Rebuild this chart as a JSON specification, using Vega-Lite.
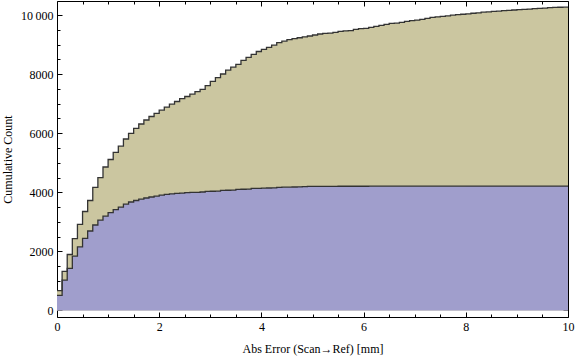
{
  "$schema": "https://vega.github.io/schema/vega-lite/v6.json",
  "autosize": "none",
  "width": 511,
  "height": 316,
  "padding": {"left": 57, "top": 1, "right": 8, "bottom": 40},
  "background": "white",
  "view": {"stroke": "#000000", "strokeWidth": 1},
  "config": {
    "axis": {
      "labelFont": "Liberation Serif",
      "labelFontSize": 12,
      "labelColor": "#000000",
      "titleFont": "Liberation Serif",
      "titleFontSize": 12,
      "titleFontWeight": "normal",
      "titleColor": "#000000",
      "tickColor": "#000000",
      "tickWidth": 1,
      "grid": false,
      "domain": false
    }
  },
  "datasets": {
    "hist": [
      {"x": 0, "n": 670, "g": "all"}, {"x": 0.1, "n": 1326, "g": "all"}, {"x": 0.2, "n": 1895, "g": "all"}, {"x": 0.3, "n": 2430, "g": "all"}, {"x": 0.4, "n": 2917, "g": "all"},
      {"x": 0.5, "n": 3350, "g": "all"}, {"x": 0.6, "n": 3722, "g": "all"}, {"x": 0.7, "n": 4169, "g": "all"}, {"x": 0.8, "n": 4500, "g": "all"}, {"x": 0.9, "n": 4856, "g": "all"},
      {"x": 1.0, "n": 5110, "g": "all"}, {"x": 1.1, "n": 5353, "g": "all"}, {"x": 1.2, "n": 5560, "g": "all"}, {"x": 1.3, "n": 5804, "g": "all"}, {"x": 1.4, "n": 5996, "g": "all"},
      {"x": 1.5, "n": 6165, "g": "all"}, {"x": 1.6, "n": 6311, "g": "all"}, {"x": 1.7, "n": 6447, "g": "all"}, {"x": 1.8, "n": 6565, "g": "all"}, {"x": 1.9, "n": 6673, "g": "all"},
      {"x": 2.0, "n": 6780, "g": "all"}, {"x": 2.1, "n": 6885, "g": "all"}, {"x": 2.2, "n": 6983, "g": "all"}, {"x": 2.3, "n": 7073, "g": "all"}, {"x": 2.4, "n": 7168, "g": "all"},
      {"x": 2.5, "n": 7242, "g": "all"}, {"x": 2.6, "n": 7320, "g": "all"}, {"x": 2.7, "n": 7404, "g": "all"}, {"x": 2.8, "n": 7485, "g": "all"}, {"x": 2.9, "n": 7613, "g": "all"},
      {"x": 3.0, "n": 7756, "g": "all"}, {"x": 3.1, "n": 7878, "g": "all"}, {"x": 3.2, "n": 8003, "g": "all"}, {"x": 3.3, "n": 8133, "g": "all"}, {"x": 3.4, "n": 8235, "g": "all"},
      {"x": 3.5, "n": 8331, "g": "all"}, {"x": 3.6, "n": 8466, "g": "all"}, {"x": 3.7, "n": 8568, "g": "all"}, {"x": 3.8, "n": 8670, "g": "all"}, {"x": 3.9, "n": 8765, "g": "all"},
      {"x": 4.0, "n": 8839, "g": "all"}, {"x": 4.1, "n": 8905, "g": "all"}, {"x": 4.2, "n": 8980, "g": "all"}, {"x": 4.3, "n": 9063, "g": "all"}, {"x": 4.4, "n": 9115, "g": "all"},
      {"x": 4.5, "n": 9170, "g": "all"}, {"x": 4.6, "n": 9200, "g": "all"}, {"x": 4.7, "n": 9230, "g": "all"}, {"x": 4.8, "n": 9260, "g": "all"}, {"x": 4.9, "n": 9289, "g": "all"},
      {"x": 5.0, "n": 9323, "g": "all"}, {"x": 5.1, "n": 9357, "g": "all"}, {"x": 5.2, "n": 9380, "g": "all"}, {"x": 5.3, "n": 9390, "g": "all"}, {"x": 5.4, "n": 9414, "g": "all"},
      {"x": 5.5, "n": 9448, "g": "all"}, {"x": 5.6, "n": 9460, "g": "all"}, {"x": 5.7, "n": 9470, "g": "all"}, {"x": 5.8, "n": 9515, "g": "all"}, {"x": 5.9, "n": 9537, "g": "all"},
      {"x": 6.0, "n": 9545, "g": "all"}, {"x": 6.1, "n": 9583, "g": "all"}, {"x": 6.2, "n": 9617, "g": "all"}, {"x": 6.3, "n": 9650, "g": "all"}, {"x": 6.4, "n": 9684, "g": "all"},
      {"x": 6.5, "n": 9718, "g": "all"}, {"x": 6.6, "n": 9725, "g": "all"}, {"x": 6.7, "n": 9752, "g": "all"}, {"x": 6.8, "n": 9786, "g": "all"}, {"x": 6.9, "n": 9808, "g": "all"},
      {"x": 7.0, "n": 9830, "g": "all"}, {"x": 7.1, "n": 9853, "g": "all"}, {"x": 7.2, "n": 9887, "g": "all"}, {"x": 7.3, "n": 9921, "g": "all"}, {"x": 7.4, "n": 9940, "g": "all"},
      {"x": 7.5, "n": 9955, "g": "all"}, {"x": 7.6, "n": 9970, "g": "all"}, {"x": 7.7, "n": 9995, "g": "all"}, {"x": 7.8, "n": 10011, "g": "all"}, {"x": 7.9, "n": 10025, "g": "all"},
      {"x": 8.0, "n": 10040, "g": "all"}, {"x": 8.1, "n": 10060, "g": "all"}, {"x": 8.2, "n": 10075, "g": "all"}, {"x": 8.3, "n": 10095, "g": "all"}, {"x": 8.4, "n": 10105, "g": "all"},
      {"x": 8.5, "n": 10120, "g": "all"}, {"x": 8.6, "n": 10130, "g": "all"}, {"x": 8.7, "n": 10150, "g": "all"}, {"x": 8.8, "n": 10158, "g": "all"}, {"x": 8.9, "n": 10170, "g": "all"},
      {"x": 9.0, "n": 10185, "g": "all"}, {"x": 9.1, "n": 10192, "g": "all"}, {"x": 9.2, "n": 10200, "g": "all"}, {"x": 9.3, "n": 10215, "g": "all"}, {"x": 9.4, "n": 10226, "g": "all"},
      {"x": 9.5, "n": 10235, "g": "all"}, {"x": 9.6, "n": 10250, "g": "all"}, {"x": 9.7, "n": 10259, "g": "all"}, {"x": 9.8, "n": 10262, "g": "all"}, {"x": 9.9, "n": 10265, "g": "all"},
      {"x": 10, "n": 10265, "g": "all"},
      {"x": 0, "n": 510, "g": "sub"}, {"x": 0.1, "n": 1030, "g": "sub"}, {"x": 0.2, "n": 1427, "g": "sub"}, {"x": 0.3, "n": 1838, "g": "sub"}, {"x": 0.4, "n": 2150, "g": "sub"},
      {"x": 0.5, "n": 2443, "g": "sub"}, {"x": 0.6, "n": 2690, "g": "sub"}, {"x": 0.7, "n": 2893, "g": "sub"}, {"x": 0.8, "n": 3058, "g": "sub"}, {"x": 0.9, "n": 3193, "g": "sub"},
      {"x": 1.0, "n": 3310, "g": "sub"}, {"x": 1.1, "n": 3415, "g": "sub"}, {"x": 1.2, "n": 3500, "g": "sub"}, {"x": 1.3, "n": 3598, "g": "sub"}, {"x": 1.4, "n": 3672, "g": "sub"},
      {"x": 1.5, "n": 3722, "g": "sub"}, {"x": 1.6, "n": 3768, "g": "sub"}, {"x": 1.7, "n": 3807, "g": "sub"}, {"x": 1.8, "n": 3841, "g": "sub"}, {"x": 1.9, "n": 3870, "g": "sub"},
      {"x": 2.0, "n": 3905, "g": "sub"}, {"x": 2.1, "n": 3930, "g": "sub"}, {"x": 2.2, "n": 3950, "g": "sub"}, {"x": 2.3, "n": 3966, "g": "sub"}, {"x": 2.4, "n": 3975, "g": "sub"},
      {"x": 2.5, "n": 3987, "g": "sub"}, {"x": 2.6, "n": 3995, "g": "sub"}, {"x": 2.7, "n": 4000, "g": "sub"}, {"x": 2.8, "n": 4010, "g": "sub"}, {"x": 2.9, "n": 4033, "g": "sub"},
      {"x": 3.0, "n": 4036, "g": "sub"}, {"x": 3.1, "n": 4040, "g": "sub"}, {"x": 3.2, "n": 4067, "g": "sub"}, {"x": 3.3, "n": 4070, "g": "sub"}, {"x": 3.4, "n": 4075, "g": "sub"},
      {"x": 3.5, "n": 4101, "g": "sub"}, {"x": 3.6, "n": 4103, "g": "sub"}, {"x": 3.7, "n": 4106, "g": "sub"}, {"x": 3.8, "n": 4134, "g": "sub"}, {"x": 3.9, "n": 4136, "g": "sub"},
      {"x": 4.0, "n": 4140, "g": "sub"}, {"x": 4.1, "n": 4145, "g": "sub"}, {"x": 4.2, "n": 4150, "g": "sub"}, {"x": 4.3, "n": 4169, "g": "sub"}, {"x": 4.4, "n": 4172, "g": "sub"},
      {"x": 4.5, "n": 4175, "g": "sub"}, {"x": 4.6, "n": 4180, "g": "sub"}, {"x": 4.7, "n": 4185, "g": "sub"}, {"x": 4.8, "n": 4190, "g": "sub"}, {"x": 4.9, "n": 4202, "g": "sub"},
      {"x": 5.0, "n": 4202, "g": "sub"}, {"x": 5.1, "n": 4202, "g": "sub"}, {"x": 5.2, "n": 4203, "g": "sub"}, {"x": 5.3, "n": 4203, "g": "sub"}, {"x": 5.4, "n": 4203, "g": "sub"},
      {"x": 5.5, "n": 4204, "g": "sub"}, {"x": 5.6, "n": 4204, "g": "sub"}, {"x": 5.7, "n": 4204, "g": "sub"}, {"x": 5.8, "n": 4205, "g": "sub"}, {"x": 5.9, "n": 4205, "g": "sub"},
      {"x": 6.0, "n": 4205, "g": "sub"}, {"x": 6.1, "n": 4206, "g": "sub"}, {"x": 6.2, "n": 4206, "g": "sub"}, {"x": 6.3, "n": 4206, "g": "sub"}, {"x": 6.4, "n": 4206, "g": "sub"},
      {"x": 6.5, "n": 4207, "g": "sub"}, {"x": 6.6, "n": 4207, "g": "sub"}, {"x": 6.7, "n": 4207, "g": "sub"}, {"x": 6.8, "n": 4207, "g": "sub"}, {"x": 6.9, "n": 4208, "g": "sub"},
      {"x": 7.0, "n": 4208, "g": "sub"}, {"x": 7.1, "n": 4208, "g": "sub"}, {"x": 7.2, "n": 4208, "g": "sub"}, {"x": 7.3, "n": 4208, "g": "sub"}, {"x": 7.4, "n": 4209, "g": "sub"},
      {"x": 7.5, "n": 4209, "g": "sub"}, {"x": 7.6, "n": 4209, "g": "sub"}, {"x": 7.7, "n": 4209, "g": "sub"}, {"x": 7.8, "n": 4209, "g": "sub"}, {"x": 7.9, "n": 4209, "g": "sub"},
      {"x": 8.0, "n": 4210, "g": "sub"}, {"x": 8.1, "n": 4210, "g": "sub"}, {"x": 8.2, "n": 4210, "g": "sub"}, {"x": 8.3, "n": 4210, "g": "sub"}, {"x": 8.4, "n": 4210, "g": "sub"},
      {"x": 8.5, "n": 4210, "g": "sub"}, {"x": 8.6, "n": 4210, "g": "sub"}, {"x": 8.7, "n": 4211, "g": "sub"}, {"x": 8.8, "n": 4211, "g": "sub"}, {"x": 8.9, "n": 4211, "g": "sub"},
      {"x": 9.0, "n": 4211, "g": "sub"}, {"x": 9.1, "n": 4211, "g": "sub"}, {"x": 9.2, "n": 4211, "g": "sub"}, {"x": 9.3, "n": 4211, "g": "sub"}, {"x": 9.4, "n": 4211, "g": "sub"},
      {"x": 9.5, "n": 4212, "g": "sub"}, {"x": 9.6, "n": 4212, "g": "sub"}, {"x": 9.7, "n": 4212, "g": "sub"}, {"x": 9.8, "n": 4212, "g": "sub"}, {"x": 9.9, "n": 4212, "g": "sub"},
      {"x": 10, "n": 4212, "g": "sub"}
    ]
  },
  "layer": [
    {
      "data": {"name": "hist"},
      "transform": [{"filter": "datum.g == 'all'"}],
      "mark": {"type": "area", "interpolate": "step-after", "color": "#CBC6A0", "opacity": 1, "clip": true},
      "encoding": {
        "x": {"field": "x", "type": "quantitative", "scale": {"domain": [0, 10], "nice": false, "zero": false},
          "axis": {"orient": "bottom", "values": [0, 2, 4, 6, 8, 10], "tickSize": -5, "labelPadding": 9, "format": "d", "labelFlush": false, "labelOverlap": false,
            "title": "Abs Error (Scan\u2192Ref) [mm]", "titlePadding": 11}},
        "y": {"field": "n", "type": "quantitative", "scale": {"domain": [-220, 10474], "nice": false, "zero": false},
          "axis": {"orient": "left", "values": [0, 2000, 4000, 6000, 8000, 10000], "tickSize": -5, "labelPadding": 9, "format": "d", "labelFlush": false, "labelOverlap": false,
            "labelExpr": "datum.value >= 10000 ? '10\u2009000' : datum.label",
            "title": "Cumulative Count", "titlePadding": 6}}
      }
    },
    {
      "data": {"name": "hist"},
      "transform": [{"filter": "datum.g == 'sub'"}],
      "mark": {"type": "area", "interpolate": "step-after", "color": "#A09ECC", "opacity": 1, "clip": true},
      "encoding": {
        "x": {"field": "x", "type": "quantitative", "scale": {"domain": [0, 10], "nice": false, "zero": false},
          "axis": {"orient": "bottom", "values": [0.5, 1, 1.5, 2.5, 3, 3.5, 4.5, 5, 5.5, 6.5, 7, 7.5, 8.5, 9, 9.5], "tickSize": -3, "labels": false, "title": null}},
        "y": {"field": "n", "type": "quantitative", "scale": {"domain": [-220, 10474], "nice": false, "zero": false},
          "axis": {"orient": "left", "values": [500, 1000, 1500, 2500, 3000, 3500, 4500, 5000, 5500, 6500, 7000, 7500, 8500, 9000, 9500], "tickSize": -3, "labels": false, "title": null}}
      }
    },
    {
      "data": {"name": "hist"},
      "transform": [{"filter": "datum.g == 'all'"}],
      "mark": {"type": "line", "interpolate": "step-after", "color": "#333333", "strokeWidth": 1.3, "clip": true},
      "encoding": {
        "x": {"field": "x", "type": "quantitative", "scale": {"domain": [0, 10], "nice": false, "zero": false},
          "axis": {"orient": "top", "values": [0, 2, 4, 6, 8, 10], "tickSize": -5, "labels": false, "title": null}},
        "y": {"field": "n", "type": "quantitative", "scale": {"domain": [-220, 10474], "nice": false, "zero": false},
          "axis": {"orient": "right", "values": [0, 2000, 4000, 6000, 8000, 10000], "tickSize": -5, "labels": false, "title": null}}
      }
    },
    {
      "data": {"name": "hist"},
      "transform": [{"filter": "datum.g == 'sub'"}],
      "mark": {"type": "line", "interpolate": "step-after", "color": "#333333", "strokeWidth": 1.3, "clip": true},
      "encoding": {
        "x": {"field": "x", "type": "quantitative", "scale": {"domain": [0, 10], "nice": false, "zero": false},
          "axis": {"orient": "top", "values": [0.5, 1, 1.5, 2.5, 3, 3.5, 4.5, 5, 5.5, 6.5, 7, 7.5, 8.5, 9, 9.5], "tickSize": -3, "labels": false, "title": null}},
        "y": {"field": "n", "type": "quantitative", "scale": {"domain": [-220, 10474], "nice": false, "zero": false},
          "axis": {"orient": "right", "values": [500, 1000, 1500, 2500, 3000, 3500, 4500, 5000, 5500, 6500, 7000, 7500, 8500, 9000, 9500], "tickSize": -3, "labels": false, "title": null}}
      }
    }
  ],
  "resolve": {"axis": {"x": "independent", "y": "independent"}}
}
